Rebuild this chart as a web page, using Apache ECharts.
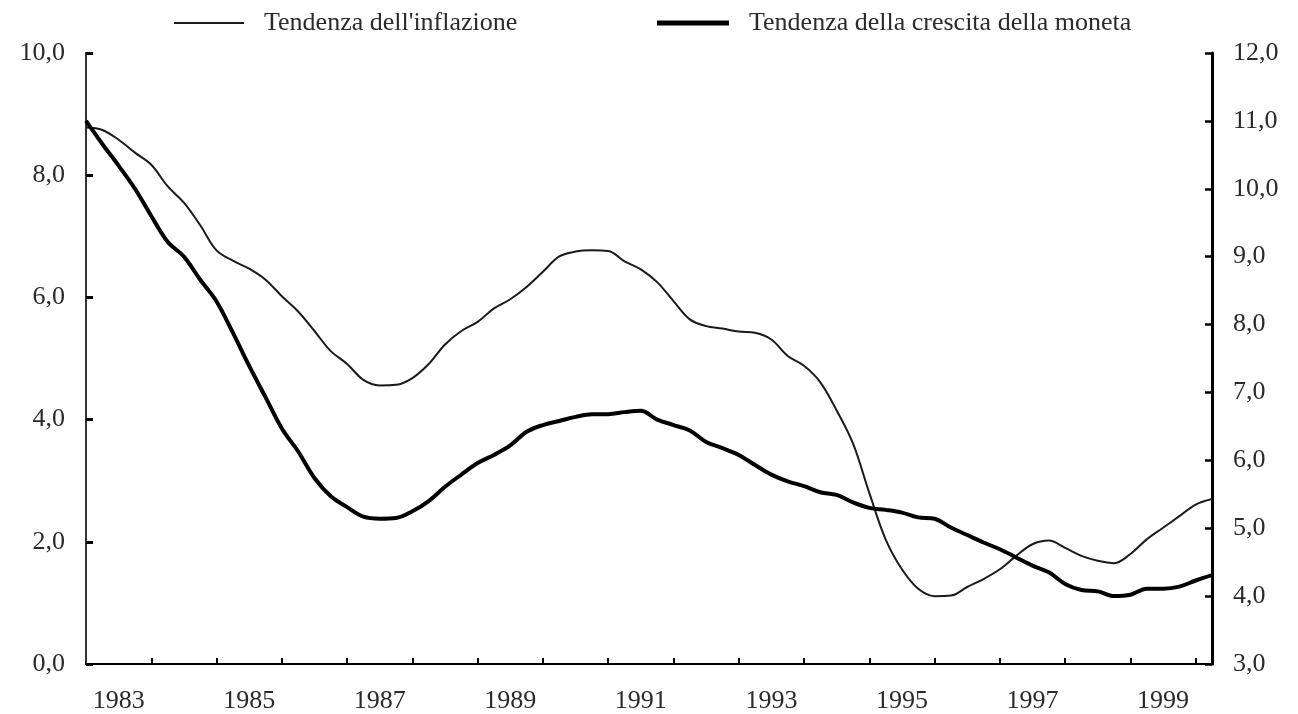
<!DOCTYPE html>
<html>
<head>
<meta charset="utf-8">
<script src="https://cdn.jsdelivr.net/npm/echarts@6/dist/echarts.min.js"></script>
<style>
  html, body { margin: 0; padding: 0; background: #fff; }
  #chart { width: 1298px; height: 714px; }
</style>
</head>
<body>
<div id="chart"></div>
<script>
// quarterly points, 1983 Q1 .. 2000 Q2
const firstYear = 1983
const quarters = []
for (let i = 0; i < 70; i++) {
  quarters.push(firstYear + Math.floor(i / 4) + ' T' + ((i % 4) + 1))
}

// trend inflation (left axis, %)
const inflazione = [
  8.78, 8.74, 8.58, 8.37, 8.17, 7.82, 7.55, 7.18, 6.77, 6.60,
  6.47, 6.29, 6.02, 5.77, 5.45, 5.12, 4.91, 4.65, 4.56, 4.57,
  4.68, 4.91, 5.23, 5.45, 5.60, 5.82, 5.97, 6.17, 6.42, 6.67,
  6.75, 6.77, 6.76, 6.59, 6.46, 6.25, 5.94, 5.64, 5.53, 5.49,
  5.44, 5.42, 5.31, 5.04, 4.88, 4.61, 4.15, 3.61, 2.80, 2.04,
  1.55, 1.23, 1.11, 1.12, 1.26, 1.39, 1.55, 1.77, 1.96, 2.02,
  1.90, 1.77, 1.69, 1.65, 1.80, 2.04, 2.23, 2.42, 2.61, 2.70
]

// trend money growth (right axis, %)
const moneta = [
  11.00, 10.66, 10.34, 10.00, 9.60, 9.22, 9.00, 8.66, 8.34, 7.88,
  7.39, 6.93, 6.47, 6.13, 5.74, 5.47, 5.31, 5.17, 5.14, 5.15,
  5.25, 5.40, 5.61, 5.79, 5.96, 6.08, 6.22, 6.42, 6.52, 6.58,
  6.64, 6.68, 6.68, 6.71, 6.73, 6.60, 6.52, 6.44, 6.27, 6.18,
  6.08, 5.93, 5.79, 5.69, 5.62, 5.53, 5.49, 5.38, 5.30, 5.27,
  5.23, 5.16, 5.14, 5.01, 4.90, 4.79, 4.69, 4.57, 4.45, 4.35,
  4.18, 4.09, 4.07, 4.00, 4.02, 4.11, 4.11, 4.14, 4.23, 4.31
]

const nomeInfl = "Tendenza dell'inflazione"
const nomeMoneta = 'Tendenza della crescita della moneta'

const font = 'Liberation Serif'
const txt = '#2a2a2a'
const comma = (v) => v.toFixed(1).replace('.', ',')

const chart = echarts.init(document.getElementById('chart'))

chart.setOption({
  animation: false,
  backgroundColor: '#fff',
  textStyle: { fontFamily: font },
  legend: [
    {
      left: 169,
      top: 5,
      icon: 'rect',
      itemWidth: 70,
      itemHeight: 2,
      textStyle: { fontFamily: font, fontSize: 26, color: txt, padding: [0, 0, 0, 15] },
      data: [nomeInfl],
    },
    {
      left: 652,
      top: 5,
      icon: 'rect',
      itemWidth: 72,
      itemHeight: 5,
      textStyle: { fontFamily: font, fontSize: 26, color: txt, padding: [0, 0, 0, 15] },
      data: [nomeMoneta],
    },
  ],
  grid: {
    left: 86,
    right: 86,
    top: 53,
    bottom: 45,
    containLabel: false,
  },
  xAxis: {
    type: 'category',
    boundaryGap: false,
    data: quarters,
    axisLine: { lineStyle: { color: '#000', width: 2 } },
    axisTick: {
      inside: true,
      length: 6,
      interval: (i) => i % 4 === 0 && i > 0,
      lineStyle: { color: '#000', width: 2 },
    },
    axisLabel: {
      interval: (i) => i % 8 === 2,
      formatter: (v) => v.slice(0, 4),
      margin: 24,
      fontFamily: font,
      fontSize: 26,
      color: txt,
    },
    splitLine: { show: false },
  },
  yAxis: [
    {
      type: 'value',
      min: 0,
      max: 10,
      interval: 2,
      position: 'left',
      axisLine: { show: true, lineStyle: { color: '#333', width: 2 } },
      axisTick: { show: true, inside: true, length: 7, lineStyle: { color: '#000', width: 3 } },
      axisLabel: {
        formatter: comma,
        margin: 21,
        fontFamily: font,
        fontSize: 26,
        color: txt,
      },
      splitLine: { show: false },
    },
    {
      type: 'value',
      min: 3,
      max: 12,
      interval: 1,
      position: 'right',
      axisLine: { show: true, lineStyle: { color: '#000', width: 3 } },
      axisTick: { show: true, inside: true, length: 7, lineStyle: { color: '#000', width: 2.5 } },
      axisLabel: {
        formatter: comma,
        margin: 21,
        fontFamily: font,
        fontSize: 26,
        color: txt,
      },
      splitLine: { show: false },
    },
  ],
  series: [
    {
      name: nomeInfl,
      type: 'line',
      yAxisIndex: 0,
      data: inflazione,
      symbol: 'none',
      smooth: 0.35,
      itemStyle: { color: '#1a1a1a' },
      lineStyle: { color: '#1a1a1a', width: 2 },
    },
    {
      name: nomeMoneta,
      type: 'line',
      yAxisIndex: 1,
      data: moneta,
      symbol: 'none',
      smooth: 0.35,
      itemStyle: { color: '#000' },
      lineStyle: { color: '#000', width: 4 },
    },
  ],
})
</script>
</body>
</html>
